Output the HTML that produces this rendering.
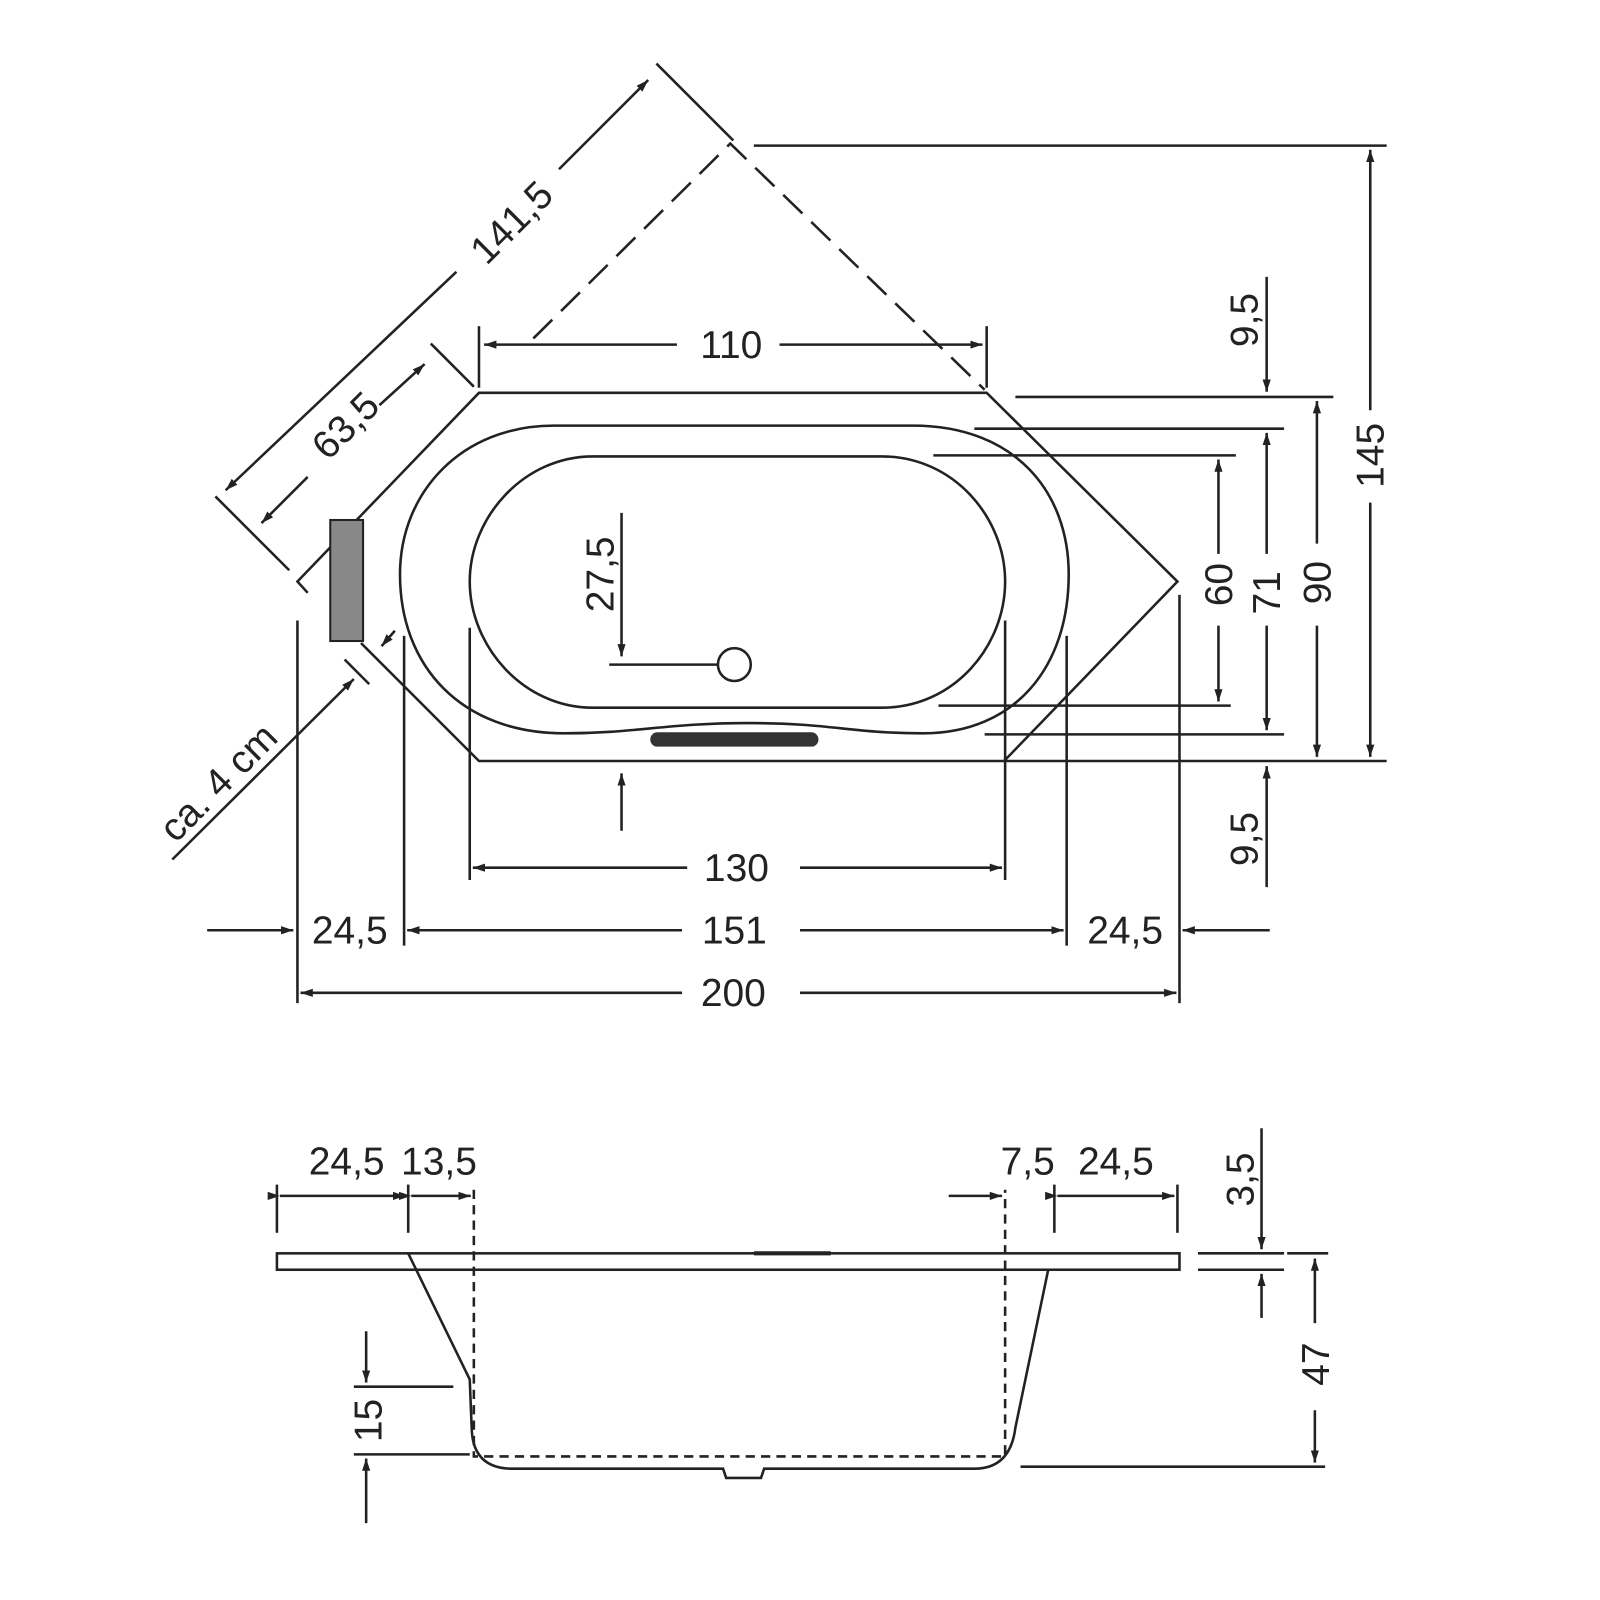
<!DOCTYPE html>
<html><head><meta charset="utf-8"><style>
html,body{margin:0;padding:0;background:#fff}
svg{display:block}
text{font-family:"Liberation Sans",sans-serif;font-size:38px;fill:#222}
</style></head><body>
<svg width="1600" height="1600" viewBox="0 0 1600 1600" xmlns="http://www.w3.org/2000/svg">
<defs>
<marker id="a" viewBox="0 0 12 8" refX="12" refY="4" markerWidth="12" markerHeight="8" markerUnits="userSpaceOnUse" orient="auto"><path d="M0,0 L12,4 L0,8 z" fill="#222"/></marker>
</defs>
<g transform="scale(1.02564)">
<g stroke="#222" stroke-width="2.5" fill="none">
<path d="M300,578 L290,567 L467,383 L962,383 L1148,567 L979,742 L467,742 L352,627"/>
<path d="M540,415 L890,415 C990,415 1042,480 1042,560 C1042,650 990,715 900,715 C830,715 810,705 730,705 C650,705 620,715 550,715 C450,715 390,650 390,560 C390,480 450,415 540,415 Z"/>
<path d="M578,445 L860,445 C930,445 980,505 980,567 C980,630 930,690 860,690 L578,690 C510,690 458,630 458,567 C458,505 510,445 578,445 Z"/>
<path d="M520,330 L712,140 L960,380" stroke-dasharray="26,12"/>
<circle cx="716" cy="648" r="16"/>
<line x1="594" y1="648" x2="700" y2="648"/>
<line x1="606" y1="500" x2="606" y2="640" marker-end="url(#a)"/>
<line x1="606" y1="810" x2="606" y2="754" marker-end="url(#a)"/>
<line x1="640" y1="62" x2="715" y2="137"/>
<line x1="210" y1="484" x2="282" y2="556"/>
<line x1="545" y1="165" x2="632" y2="78" marker-end="url(#a)"/>
<line x1="445" y1="265" x2="220" y2="478" marker-end="url(#a)"/>
<line x1="420" y1="335" x2="462" y2="377"/>
<line x1="370" y1="395" x2="414" y2="355" marker-end="url(#a)"/>
<line x1="300" y1="465" x2="255" y2="510" marker-end="url(#a)"/>
<line x1="168" y1="838" x2="345" y2="662" marker-end="url(#a)"/>
<line x1="336" y1="643" x2="360" y2="667"/>
<line x1="385" y1="615" x2="372" y2="630" marker-end="url(#a)"/>
<line x1="467" y1="318" x2="467" y2="378"/><line x1="962" y1="318" x2="962" y2="378"/>
<line x1="660" y1="336" x2="472" y2="336" marker-end="url(#a)"/>
<line x1="760" y1="336" x2="958" y2="336" marker-end="url(#a)"/>
<line x1="458" y1="612" x2="458" y2="858"/><line x1="980" y1="605" x2="980" y2="858"/>
<line x1="670" y1="846" x2="461" y2="846" marker-end="url(#a)"/>
<line x1="780" y1="846" x2="977" y2="846" marker-end="url(#a)"/>
<line x1="394" y1="620" x2="394" y2="922"/><line x1="1040" y1="620" x2="1040" y2="922"/>
<line x1="665" y1="907" x2="397" y2="907" marker-end="url(#a)"/>
<line x1="780" y1="907" x2="1037" y2="907" marker-end="url(#a)"/>
<line x1="202" y1="907" x2="286" y2="907" marker-end="url(#a)"/>
<line x1="1238" y1="907" x2="1153" y2="907" marker-end="url(#a)"/>
<line x1="290" y1="605" x2="290" y2="978"/><line x1="1150" y1="580" x2="1150" y2="978"/>
<line x1="665" y1="968" x2="293" y2="968" marker-end="url(#a)"/>
<line x1="780" y1="968" x2="1147" y2="968" marker-end="url(#a)"/>
<line x1="735" y1="142" x2="1352" y2="142"/><line x1="980" y1="742" x2="1352" y2="742"/>
<line x1="1336" y1="400" x2="1336" y2="146" marker-end="url(#a)"/>
<line x1="1336" y1="490" x2="1336" y2="738" marker-end="url(#a)"/>
<line x1="990" y1="387" x2="1300" y2="387"/>
<line x1="1284" y1="530" x2="1284" y2="391" marker-end="url(#a)"/>
<line x1="1284" y1="610" x2="1284" y2="738" marker-end="url(#a)"/>
<line x1="950" y1="418" x2="1252" y2="418"/><line x1="960" y1="716" x2="1252" y2="716"/>
<line x1="1235" y1="540" x2="1235" y2="422" marker-end="url(#a)"/>
<line x1="1235" y1="610" x2="1235" y2="712" marker-end="url(#a)"/>
<line x1="910" y1="444" x2="1205" y2="444"/><line x1="915" y1="688" x2="1200" y2="688"/>
<line x1="1188" y1="540" x2="1188" y2="448" marker-end="url(#a)"/>
<line x1="1188" y1="610" x2="1188" y2="684" marker-end="url(#a)"/>
<line x1="1235" y1="270" x2="1235" y2="382" marker-end="url(#a)"/>
<line x1="1235" y1="865" x2="1235" y2="747" marker-end="url(#a)"/>
<rect x="270" y="1222" width="880" height="16"/>
<path d="M398,1222 L458,1345 L460,1395 Q462,1432 500,1432 L705,1432 L708,1441 L742,1441 L745,1432 L950,1432 Q985,1432 990,1392 L1022,1238"/>
<line x1="735" y1="1222" x2="810" y2="1222" stroke-width="4"/>
<path d="M462,1160 L462,1420 L980,1420 L980,1160" stroke-dasharray="9,6"/>
<line x1="270" y1="1155" x2="270" y2="1202"/><line x1="398" y1="1155" x2="398" y2="1202"/>
<line x1="1028" y1="1155" x2="1028" y2="1202"/><line x1="1148" y1="1155" x2="1148" y2="1202"/>
<line x1="273" y1="1166" x2="395" y2="1166" marker-start="url(#a)" marker-end="url(#a)"/>
<line x1="401" y1="1166" x2="459" y2="1166" marker-start="url(#a)" marker-end="url(#a)"/>
<line x1="925" y1="1166" x2="977" y2="1166" marker-end="url(#a)"/>
<line x1="1031" y1="1166" x2="1145" y2="1166" marker-start="url(#a)" marker-end="url(#a)"/>
<line x1="1168" y1="1222" x2="1252" y2="1222"/><line x1="1168" y1="1238" x2="1252" y2="1238"/>
<line x1="1230" y1="1100" x2="1230" y2="1218" marker-end="url(#a)"/>
<line x1="1230" y1="1285" x2="1230" y2="1242" marker-end="url(#a)"/>
<line x1="1255" y1="1222" x2="1295" y2="1222"/><line x1="995" y1="1430" x2="1292" y2="1430"/>
<line x1="1282" y1="1290" x2="1282" y2="1227" marker-end="url(#a)"/>
<line x1="1282" y1="1375" x2="1282" y2="1426" marker-end="url(#a)"/>
<line x1="345" y1="1352" x2="442" y2="1352"/><line x1="345" y1="1418" x2="458" y2="1418"/>
<line x1="357" y1="1298" x2="357" y2="1348" marker-end="url(#a)"/>
<line x1="357" y1="1485" x2="357" y2="1422" marker-end="url(#a)"/>
</g>
<rect x="322" y="507" width="32" height="118" fill="#888" stroke="#222" stroke-width="2"/>
<rect x="634" y="714" width="164" height="14" rx="7" fill="#333"/>
<g text-anchor="middle">
<text x="713" y="349">110</text>
<text x="718" y="859">130</text>
<text x="716" y="920">151</text>
<text x="715" y="981">200</text>
<text x="341" y="920">24,5</text>
<text x="1097" y="920">24,5</text>
<text x="338" y="1145">24,5</text>
<text x="428" y="1145">13,5</text>
<text x="1002" y="1145">7,5</text>
<text x="1088" y="1145">24,5</text>
<text transform="translate(508,226) rotate(-45)">141,5</text>
<text transform="translate(346,424) rotate(-45)">63,5</text>
<text transform="translate(222,772) rotate(-45)">ca. 4 cm</text>
<text transform="translate(598,560) rotate(-90)">27,5</text>
<text transform="translate(1349,444) rotate(-90)">145</text>
<text transform="translate(1297,568) rotate(-90)">90</text>
<text transform="translate(1248,578) rotate(-90)">71</text>
<text transform="translate(1201,570) rotate(-90)">60</text>
<text transform="translate(1226,312) rotate(-90)">9,5</text>
<text transform="translate(1226,818) rotate(-90)">9,5</text>
<text transform="translate(1222,1150) rotate(-90)">3,5</text>
<text transform="translate(1296,1330) rotate(-90)">47</text>
<text transform="translate(372,1385) rotate(-90)">15</text>
</g>
</g>
</svg>
</body></html>
